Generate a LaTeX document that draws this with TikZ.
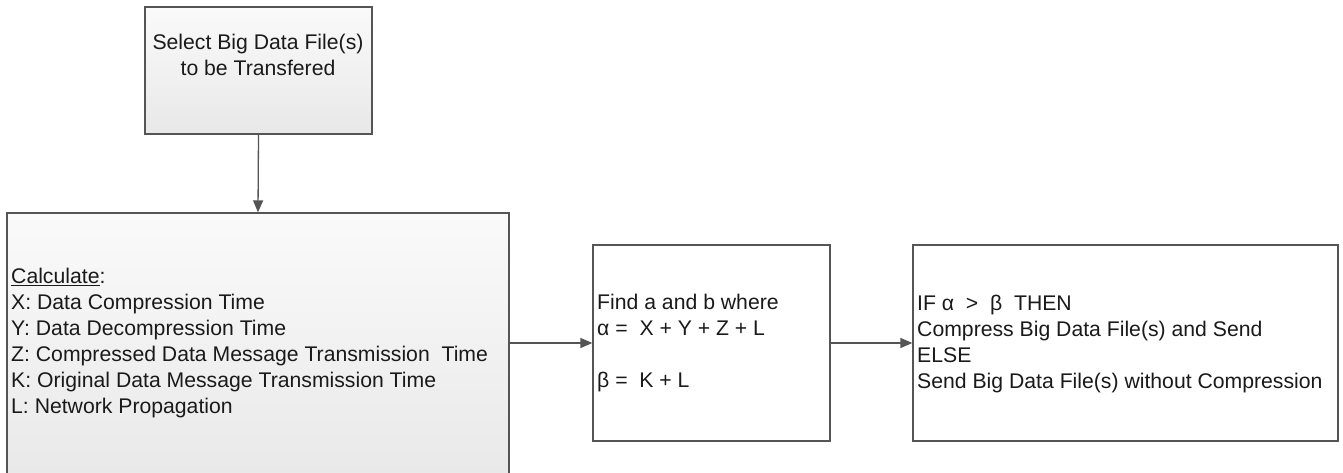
\documentclass[tikz,border=0pt]{standalone}
\usepackage{fontspec}
\setmainfont{Liberation Sans}
\usetikzlibrary{arrows.meta}
\definecolor{edge}{HTML}{555555}
\definecolor{txt}{HTML}{1A1A1A}
\definecolor{shadebot}{HTML}{E8E8E8}
\definecolor{shadetop}{HTML}{FAFAFA}
\tikzset{
  box/.style={draw=edge, line width=1.3pt, inner sep=0pt, fill=white},
  grbox/.style={box, top color=shadetop, bottom color=shadebot},
  lbl/.style={inner sep=0pt, text=txt, font=\fontsize{21.2}{26}\selectfont},
  conn/.style={draw=edge, line width=1.3pt, -{Triangle[length=12pt,width=10pt]}}
}
\begin{document}
\begin{tikzpicture}[x=1pt,y=1pt]
\useasboundingbox (0,0) rectangle (1343,472);
\fill[white] (0,0) rectangle (1343,472);
\begin{scope}
\clip (0,0) rectangle (1343,472);
\node[grbox, minimum width=227pt, minimum height=127pt] (b1) at (258.5,401.5) {};
\node[grbox, minimum width=502pt, minimum height=275pt] (b2) at (258,121.5) {};
\node[box, minimum width=237pt, minimum height=196pt] (b3) at (711.5,129) {};
\node[box, minimum width=425pt, minimum height=196pt] (b4) at (1125.5,129) {};
\end{scope}
\node[lbl, align=center, anchor=north] (t1) at (258,438) {Select Big Data File(s)\\to be Transfered};
\node[lbl, align=left, anchor=west] (t2) at (11,129) {\underline{Calculate}:\\X: Data Compression Time\\Y: Data Decompression Time\\Z: Compressed Data Message Transmission\ \ Time\\K: Original Data Message Transmission Time\\L: Network Propagation};
\node[lbl, align=left, anchor=west] (t3) at (597,129) {Find a and b where\\α =\ \ X + Y + Z + L\\[26pt]β =\ \ K + L};
\node[lbl, align=left, anchor=west] (t4) at (917,128) {IF α\ \ >\ \ β\ \ THEN\\Compress Big Data File(s) and Send\\ELSE\\Send Big Data File(s) without Compression};
\draw[conn] (b1.south) -- (b2.north);
\draw[conn] (b2.east |- b3.west) -- (b3.west);
\draw[conn] (b3.east) -- (b4.west);
\end{tikzpicture}
\end{document}
